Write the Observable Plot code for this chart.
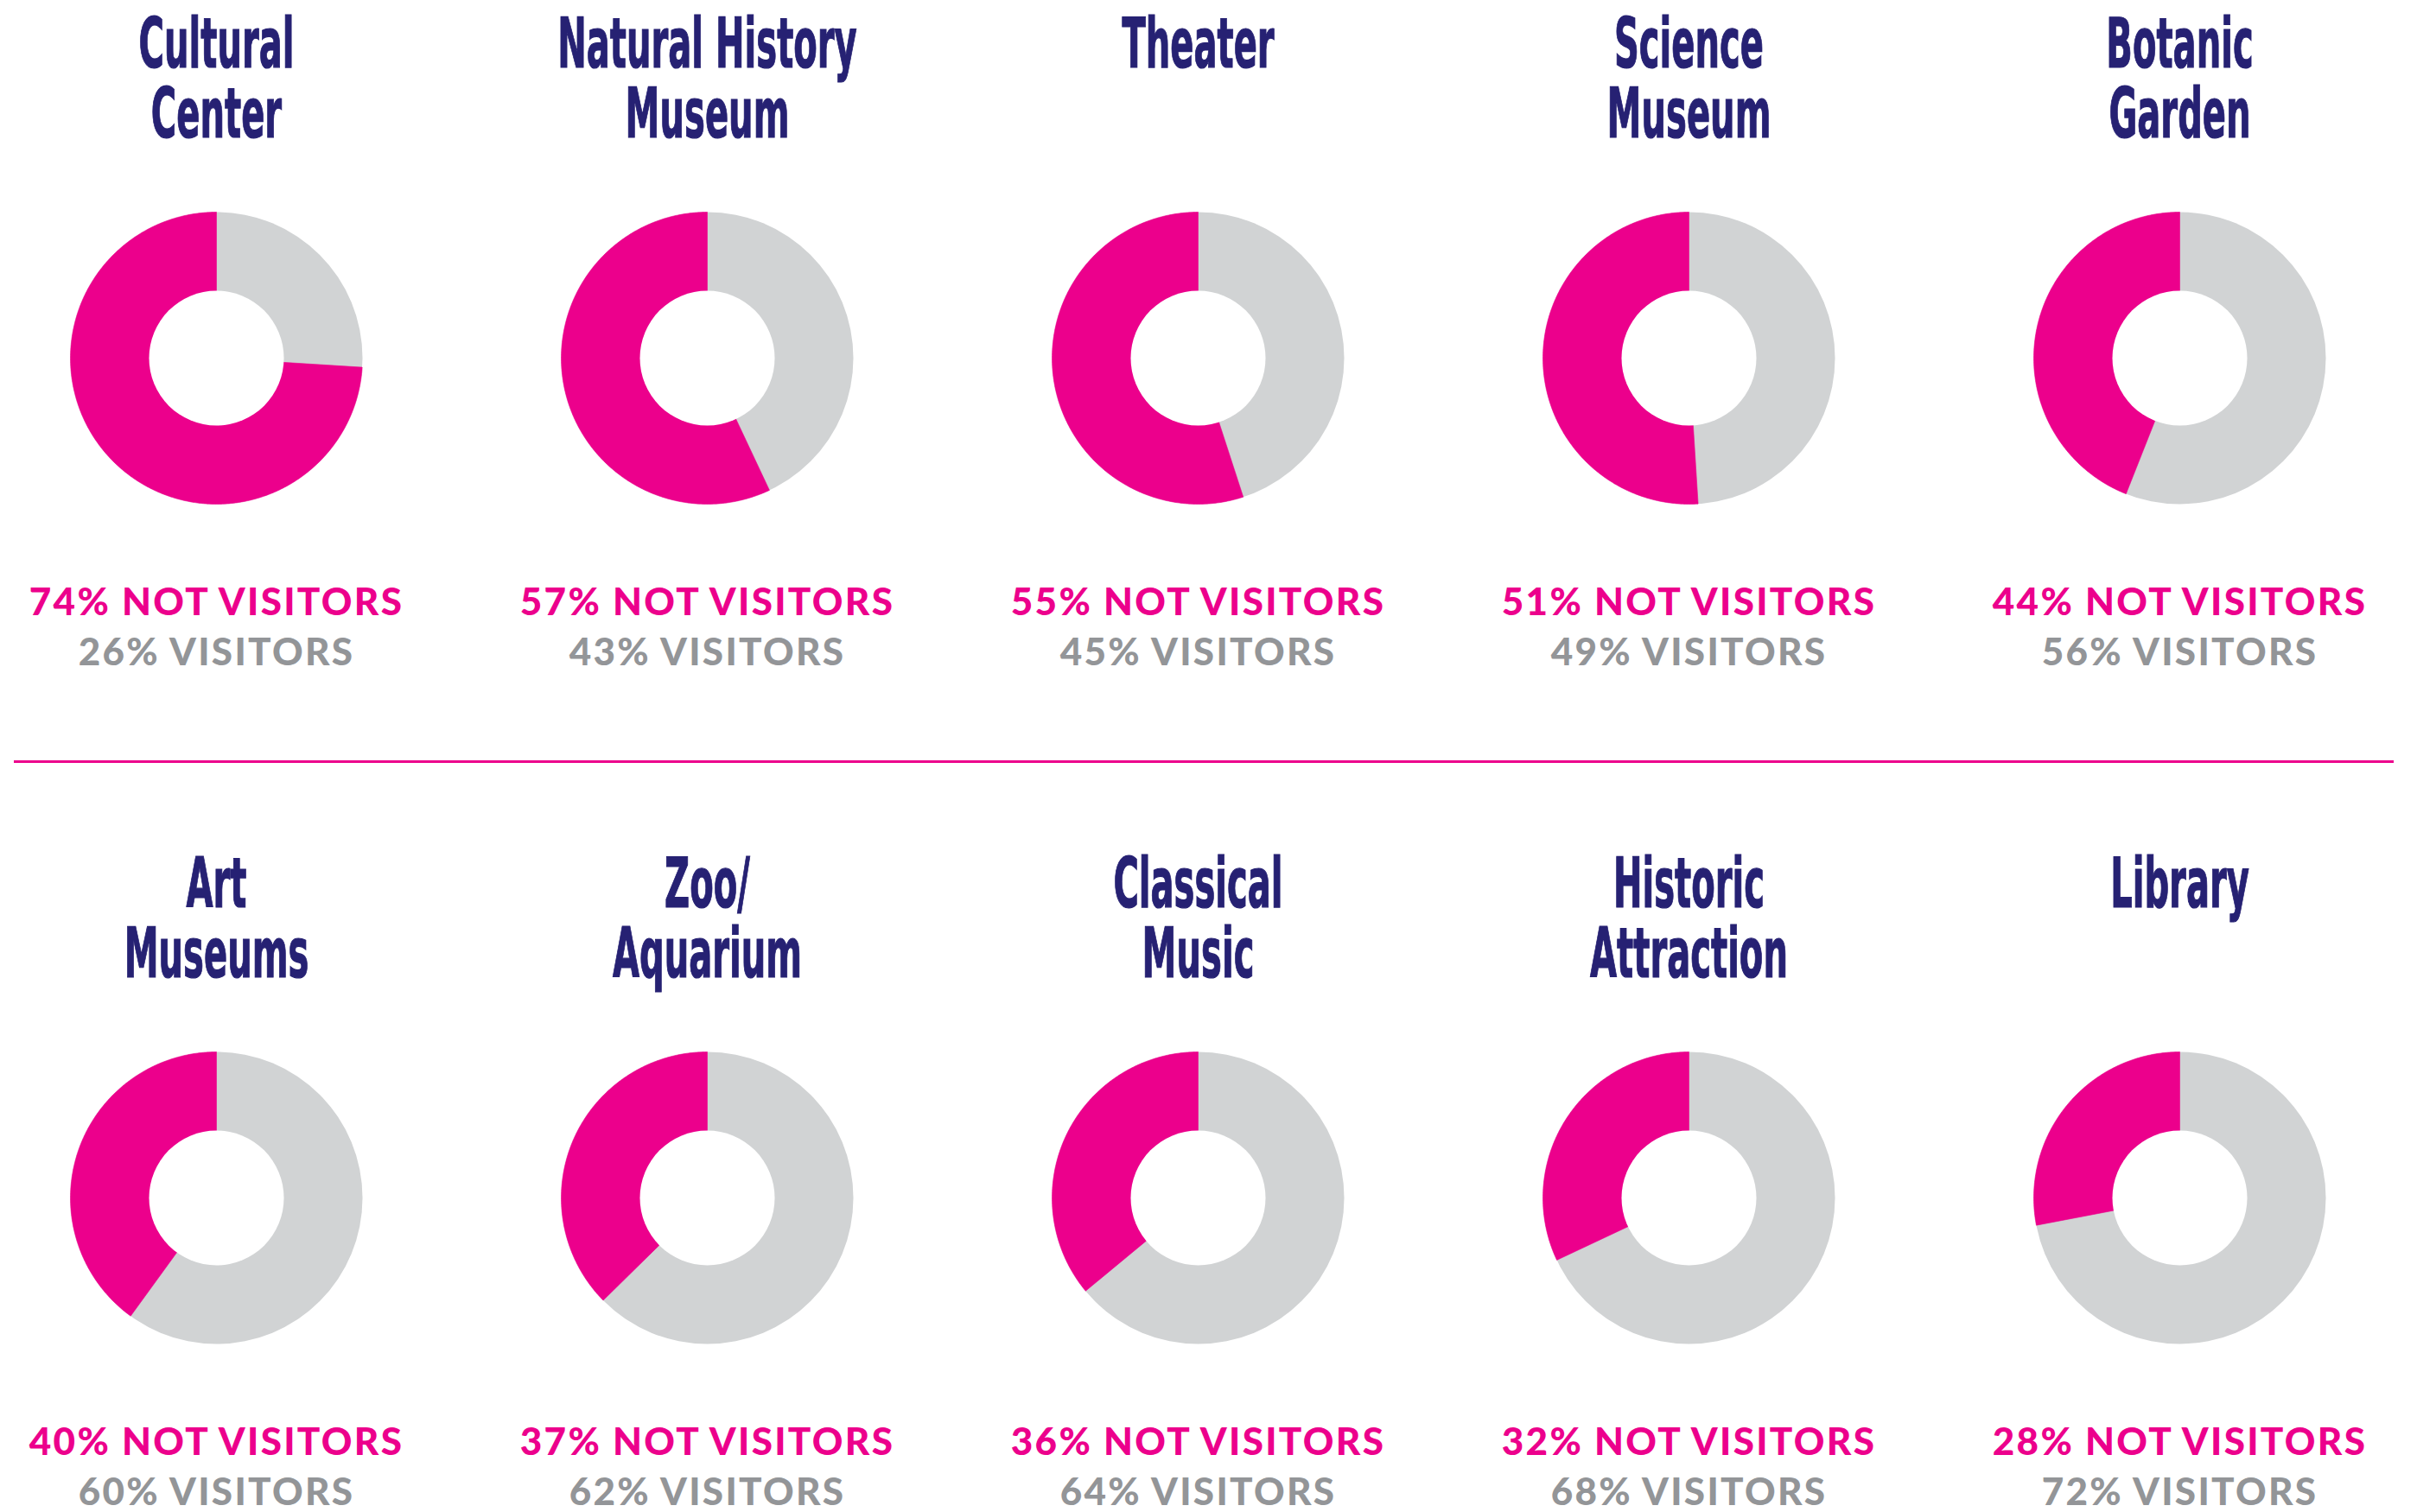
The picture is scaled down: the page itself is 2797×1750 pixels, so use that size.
<!DOCTYPE html>
<html>
<head>
<meta charset="utf-8">
<script src="https://cdn.jsdelivr.net/npm/d3@7"></script>
<script src="https://cdn.jsdelivr.net/npm/@observablehq/plot@0.6"></script>
<style>
  html, body { margin: 0; padding: 0; background: #ffffff; }
  #chart svg { display: block; }
</style>
</head>
<body>
<div id="chart"></div>
<script>
// ---- data ----
const venues = [
  "Cultural\nCenter", "Natural History\nMuseum", "Theater", "Science\nMuseum", "Botanic\nGarden",
  "Art\nMuseums", "Zoo/\nAquarium", "Classical\nMusic", "Historic\nAttraction", "Library"
];
const notVisitors = [74, 57, 55, 51, 44, 40, 37, 36, 32, 28];
const visitors    = [26, 43, 45, 49, 56, 60, 62, 64, 68, 72];
const columns = 5;

// ---- style constants ----
const PINK = "#EC008C", GREY = "#D1D3D4", GREYTEXT = "#939598", NAVY = "#262173";
const W = 2797, H = 1750;
const xRange = [250, 2522], yRange = [414, 1386];
const R_OUT = 169, R_IN = 78;

const items = venues.map((v, i) => ({
  id: i, venue: v, not: notVisitors[i], vis: visitors[i],
  col: i % columns, row: Math.floor(i / columns)
}));

// pixel -> data unit conversion for drawing the wedge polygon
const ux = (xRange[1] - xRange[0]) / (columns - 1);
const uy = (yRange[1] - yRange[0]) / 1;

// Pink "not visitors" wedge: from the end of the grey (visitors, clockwise from 12 o'clock) back to top
const wedge = [];
for (const d of items) {
  const a0 = d.vis / (d.vis + d.not) * 2 * Math.PI, a1 = 2 * Math.PI;
  wedge.push({id: d.id, x: d.col, y: d.row});
  const n = Math.max(2, Math.ceil((a1 - a0) / (Math.PI / 360)));
  for (let k = 0; k <= n; ++k) {
    const a = a0 + (a1 - a0) * k / n;
    wedge.push({id: d.id, x: d.col + (R_OUT / ux) * Math.sin(a), y: d.row - (R_OUT / uy) * Math.cos(a)});
  }
  wedge.push({id: d.id, x: d.col, y: d.row});
}

const LABEL_FONT = "Lato, 'Open Sans', sans-serif";

const chart = Plot.plot({
  width: W,
  height: H,
  marginLeft: 16,
  marginRight: 27,
  marginTop: 0,
  marginBottom: 0,
  x: {type: "linear", domain: [0, columns - 1], range: xRange, axis: null},
  y: {type: "linear", domain: [0, 1], range: yRange, axis: null},
  style: {background: "#ffffff"},
  marks: [
    Plot.ruleY([0.5], {stroke: PINK, strokeWidth: 3, dy: -19}),
    Plot.dot(items, {x: "col", y: "row", r: R_OUT, fill: GREY, stroke: null}),
    Plot.line(wedge, {x: "x", y: "y", z: "id", fill: PINK, stroke: PINK, strokeWidth: 0.6, curve: "linear"}),
    Plot.dot(items, {x: "col", y: "row", r: R_IN, fill: "#ffffff", stroke: null}),
    Plot.text(items, {
      x: "col", y: "row", text: "venue", dy: -394, lineAnchor: "top", lineHeight: 1,
      fontSize: 81, fontWeight: "bold", fontFamily: "'DejaVu Sans Condensed', 'DejaVu Sans', sans-serif",
      fill: NAVY, stroke: NAVY, strokeWidth: 1.2, strokeLinejoin: "miter", textAnchor: "middle"
    }),
    Plot.text(items, {
      x: "col", y: "row", text: d => `${d.not}% NOT VISITORS`, dy: 297, lineAnchor: "bottom",
      fontSize: 44, fontWeight: 900, fontFamily: LABEL_FONT,
      fill: PINK, textAnchor: "middle"
    }),
    Plot.text(items, {
      x: "col", y: "row", text: d => `${d.vis}% VISITORS`, dy: 355, lineAnchor: "bottom",
      fontSize: 44, fontWeight: 900, fontFamily: LABEL_FONT,
      fill: GREYTEXT, textAnchor: "middle"
    })
  ]
});

document.getElementById("chart").appendChild(chart);

// condense the headline type (the original uses a narrow gothic face)
d3.select(chart).selectAll(`g[fill="${NAVY}"] > text`).each(function () {
  const t = this.getAttribute("transform") || "";
  this.setAttribute("transform", t + " scale(0.55,1)");
});
// slightly tracked-out label type
d3.select(chart).selectAll(`g[fill="${PINK}"] > text, g[fill="${GREYTEXT}"] > text`)
  .style("letter-spacing", "2.3px");
</script>
</body>
</html>
